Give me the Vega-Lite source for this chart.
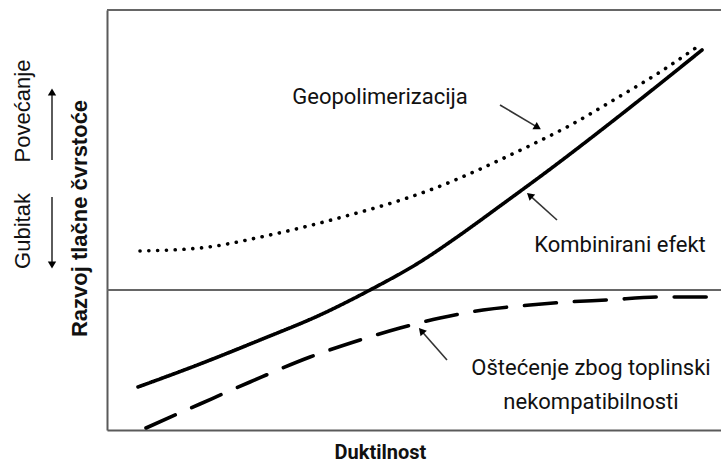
{
  "$schema": "https://vega.github.io/schema/vega-lite/v6.json",
  "width": 614,
  "height": 420,
  "autosize": {"type": "none"},
  "padding": {"left": 107, "top": 10, "right": 0, "bottom": 36},
  "background": "white",
  "config": {"view": {"stroke": null}},
  "datasets": {
    "curves": [
      {"series": "Geopolimerizacija", "x": 33, "y": 39},
      {"series": "Geopolimerizacija", "x": 93, "y": 42},
      {"series": "Geopolimerizacija", "x": 163, "y": 55},
      {"series": "Geopolimerizacija", "x": 228, "y": 71},
      {"series": "Geopolimerizacija", "x": 323, "y": 100},
      {"series": "Geopolimerizacija", "x": 420, "y": 143},
      {"series": "Geopolimerizacija", "x": 460, "y": 163},
      {"series": "Geopolimerizacija", "x": 510, "y": 192},
      {"series": "Geopolimerizacija", "x": 553, "y": 218},
      {"series": "Geopolimerizacija", "x": 590, "y": 243},
      {"series": "Kombinirani efekt", "x": 31, "y": -97},
      {"series": "Kombinirani efekt", "x": 93, "y": -74},
      {"series": "Kombinirani efekt", "x": 153, "y": -50},
      {"series": "Kombinirani efekt", "x": 213, "y": -25},
      {"series": "Kombinirani efekt", "x": 263, "y": 0},
      {"series": "Kombinirani efekt", "x": 313, "y": 28},
      {"series": "Kombinirani efekt", "x": 353, "y": 55},
      {"series": "Kombinirani efekt", "x": 393, "y": 84},
      {"series": "Kombinirani efekt", "x": 446, "y": 123},
      {"series": "Kombinirani efekt", "x": 493, "y": 159},
      {"series": "Kombinirani efekt", "x": 530, "y": 188},
      {"series": "Kombinirani efekt", "x": 595, "y": 240},
      {"series": "Oštećenje", "x": 39, "y": -138},
      {"series": "Oštećenje", "x": 93, "y": -114},
      {"series": "Oštećenje", "x": 143, "y": -92},
      {"series": "Oštećenje", "x": 203, "y": -67},
      {"series": "Oštećenje", "x": 253, "y": -50},
      {"series": "Oštećenje", "x": 293, "y": -38},
      {"series": "Oštećenje", "x": 333, "y": -28},
      {"series": "Oštećenje", "x": 376, "y": -20},
      {"series": "Oštećenje", "x": 423, "y": -15},
      {"series": "Oštećenje", "x": 460, "y": -12},
      {"series": "Oštećenje", "x": 500, "y": -10},
      {"series": "Oštećenje", "x": 553, "y": -7},
      {"series": "Oštećenje", "x": 614, "y": -7}
    ],
    "frame": [
      {"part": "top", "x": 0, "x2": 614, "y": 280},
      {"part": "zero", "x": 0, "x2": 614, "y": 0}
    ],
    "arrows": [
      {"name": "geo", "x": 393, "y": 185, "x2": 430.7, "y2": 162.6},
      {"name": "komb", "x": 450, "y": 70, "x2": 422.7, "y2": 94.7},
      {"name": "ost", "x": 340, "y": -70, "x2": 314.3, "y2": -40.8},
      {"name": "pov", "x": -55, "y": 130, "x2": -55, "y2": 198},
      {"name": "gub", "x": -55, "y": 93, "x2": -55, "y2": 25}
    ],
    "heads": [
      {"name": "geo", "x": 430.7, "y": 162.6, "angle": 120.8},
      {"name": "komb", "x": 422.7, "y": 94.7, "angle": 312},
      {"name": "ost", "x": 314.3, "y": -40.8, "angle": 318.7},
      {"name": "pov", "x": -55, "y": 198, "angle": 0},
      {"name": "gub", "x": -55, "y": 25, "angle": 180}
    ],
    "labels": [
      {"text": "Geopolimerizacija", "x": 273, "y": 193},
      {"text": "Kombinirani efekt", "x": 513, "y": 45},
      {"text": "Oštećenje zbog toplinski", "x": 484, "y": -78},
      {"text": "nekompatibilnosti", "x": 484, "y": -112}
    ],
    "side": [
      {"text": "Gubitak", "x": -84, "y": 59},
      {"text": "Povećanje", "x": -84, "y": 179}
    ]
  },
  "layer": [
    {
      "data": {"name": "frame"},
      "mark": {"type": "rule", "color": "#666666", "strokeWidth": 2},
      "encoding": {
        "x": {"field": "x", "type": "quantitative", "scale": {"domain": [0, 614], "nice": false, "zero": false},
              "axis": {"domain": true, "domainColor": "#5a5a5a", "domainWidth": 2, "ticks": false, "labels": false, "grid": false,
                       "title": "Duktilnost", "titleFont": "Roboto", "titleFontSize": 20, "titleFontWeight": "bold", "titleColor": "#111111",
                       "titleX": 273, "titleY": 22, "titleBaseline": "middle", "titleAlign": "center", "titleAngle": 0}},
        "x2": {"field": "x2"},
        "y": {"field": "y", "type": "quantitative", "scale": {"domain": [-140, 280], "nice": false, "zero": false},
              "axis": {"domain": true, "domainColor": "#5a5a5a", "domainWidth": 2, "ticks": false, "labels": false, "grid": false,
                       "title": "Razvoj tlačne čvrstoće", "titleFont": "Liberation Sans", "titleFontSize": 22, "titleFontWeight": "bold", "titleColor": "#111111",
                       "titleX": -28, "titleY": 208, "titleBaseline": "middle", "titleAlign": "center", "titleAngle": 270}}
      }
    },
    {
      "data": {"name": "curves"},
      "mark": {"type": "line", "interpolate": "monotone", "color": "black", "strokeWidth": 3.6, "strokeCap": "round"},
      "encoding": {
        "x": {"field": "x", "type": "quantitative"},
        "y": {"field": "y", "type": "quantitative"},
        "detail": {"field": "series"},
        "strokeDash": {"field": "series", "type": "nominal",
                       "scale": {"domain": ["Geopolimerizacija", "Kombinirani efekt", "Oštećenje"], "range": [[0.1, 8.7], [1, 0], [32, 18]]},
                       "legend": null}
      }
    },
    {
      "data": {"name": "arrows"},
      "mark": {"type": "rule", "color": "#333333", "strokeWidth": 1.6},
      "encoding": {
        "x": {"field": "x", "type": "quantitative"},
        "y": {"field": "y", "type": "quantitative"},
        "x2": {"field": "x2"},
        "y2": {"field": "y2"}
      }
    },
    {
      "data": {"name": "heads"},
      "mark": {"type": "point", "shape": "triangle-up", "filled": true, "color": "black", "size": 70, "opacity": 1},
      "encoding": {
        "x": {"field": "x", "type": "quantitative"},
        "y": {"field": "y", "type": "quantitative"},
        "angle": {"field": "angle", "type": "quantitative", "scale": null}
      }
    },
    {
      "data": {"name": "labels"},
      "mark": {"type": "text", "font": "Roboto", "fontSize": 22, "color": "#111111", "align": "center", "baseline": "middle"},
      "encoding": {
        "x": {"field": "x", "type": "quantitative"},
        "y": {"field": "y", "type": "quantitative"},
        "text": {"field": "text"}
      }
    },
    {
      "data": {"name": "side"},
      "mark": {"type": "text", "font": "Liberation Sans", "fontSize": 22, "color": "#111111", "align": "center", "baseline": "middle", "angle": 270},
      "encoding": {
        "x": {"field": "x", "type": "quantitative"},
        "y": {"field": "y", "type": "quantitative"},
        "text": {"field": "text"}
      }
    }
  ]
}
